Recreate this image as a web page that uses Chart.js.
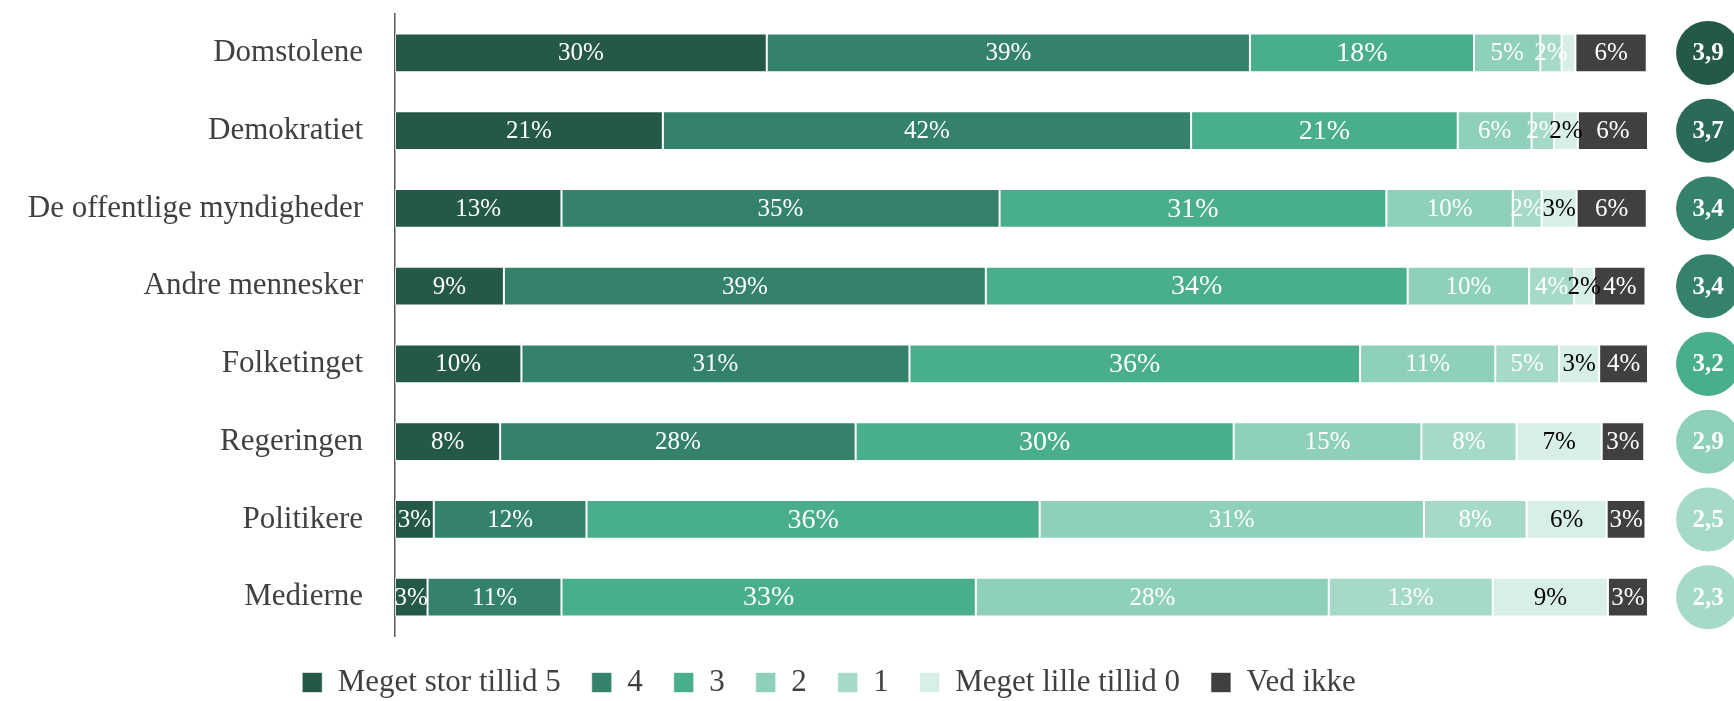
<!DOCTYPE html>
<html>
<head>
<meta charset="utf-8">
<script src="https://cdn.jsdelivr.net/npm/chart.js@4.4.0/dist/chart.umd.min.js"></script>
<style>
  html, body { margin: 0; padding: 0; background: #fff; }
  #wrap { width: 1734px; height: 701px; }
</style>
</head>
<body>
<div id="wrap"><canvas id="tillidChart"></canvas></div>
<script>
// Kategorier på y-aksen
const categories = ['Domstolene', 'Demokratiet', 'De offentlige myndigheder', 'Andre mennesker',
    'Folketinget', 'Regeringen', 'Politikere', 'Medierne'];

// Andele i procent for hver svarkategori
const tillid5 = [29.7, 21.4, 13.3, 8.7, 10.1, 8.4, 3.1, 2.6];
const tillid4 = [38.6, 42.2, 35.0, 38.5, 31.0, 28.4, 12.2, 10.7];
const tillid3 = [17.9, 21.3, 30.9, 33.7, 36.0, 30.2, 36.2, 33.1];
const tillid2 = [5.3, 5.9, 10.1, 9.7, 10.8, 15.0, 30.7, 28.2];
const tillid1 = [1.7, 1.8, 2.3, 3.6, 5.1, 7.6, 8.2, 13.1];
const tillid0 = [1.1, 1.9, 2.8, 1.6, 3.2, 6.8, 6.4, 9.2];
const vedIkke = [5.7, 5.6, 5.6, 4.1, 3.9, 3.4, 3.1, 3.2];

// Gennemsnitlig tillid (cirklerne til højre)
const gennemsnit = [3.9, 3.7, 3.4, 3.4, 3.2, 2.9, 2.5, 2.3];
const cirkelFarver = ['#245849', '#2B6A59', '#35826C', '#35826C', '#48AE8E', '#8ED0BC', '#A5D9CA', '#A5D9CA'];

const FONT = "'Liberation Serif', 'DejaVu Serif', serif";

// Procent-tekster midt i hvert segment
const segmentLabels = {
    id: 'segmentLabels',
    afterDatasetsDraw(chart) {
        const ctx = chart.ctx;
        ctx.save();
        ctx.textAlign = 'center';
        ctx.textBaseline = 'middle';
        chart.data.datasets.forEach((ds, di) => {
            const meta = chart.getDatasetMeta(di);
            if (meta.hidden) return;
            meta.data.forEach((bar, i) => {
                const v = ds.data[i];
                if (v < 1.5) return;
                ctx.font = (ds.labelSize || 25) + 'px ' + FONT;
                ctx.fillStyle = ds.labelColor;
                ctx.fillText(Math.round(v) + '%', (bar.x + bar.base) / 2, bar.y + 1);
            });
        });
        ctx.restore();
    }
};

// Cirkler med gennemsnit, placeret via skalaerne
const averageCircles = {
    id: 'averageCircles',
    afterDraw(chart) {
        const ctx = chart.ctx;
        const x = chart.scales.x.getPixelForValue(104.9);
        ctx.save();
        gennemsnit.forEach((v, i) => {
            const y = chart.scales.y.getPixelForValue(i);
            ctx.beginPath();
            ctx.arc(x, y, 32, 0, Math.PI * 2);
            ctx.fillStyle = cirkelFarver[i];
            ctx.fill();
            ctx.fillStyle = '#ffffff';
            ctx.font = 'bold 25px ' + FONT;
            ctx.textAlign = 'center';
            ctx.textBaseline = 'middle';
            ctx.fillText(v.toFixed(1).replace('.', ','), x, y + 1);
        });
        ctx.restore();
    }
};

function lavDataset(label, data, color, labelColor, labelSize) {
    return {
        label: label,
        data: data,
        backgroundColor: color,
        borderColor: 'rgba(255,255,255,0.6)',
        borderWidth: 1,
        borderSkipped: false,
        labelColor: labelColor,
        labelSize: labelSize
    };
}

function initChart() {
    const ctx = document.getElementById('tillidChart').getContext('2d');
    new Chart(ctx, {
        type: 'bar',
        data: {
            labels: categories,
            datasets: [
                lavDataset('Meget stor tillid 5', tillid5, '#245849', '#ffffff'),
                lavDataset('4', tillid4, '#35826C', '#ffffff'),
                lavDataset('3', tillid3, '#48AE8E', '#ffffff', 28),
                lavDataset('2', tillid2, '#8ED0BC', '#ffffff'),
                lavDataset('1', tillid1, '#A5D9CA', '#ffffff'),
                lavDataset('Meget lille tillid 0', tillid0, '#D8EFE8', '#000000'),
                lavDataset('Ved ikke', vedIkke, '#404040', '#ffffff')
            ]
        },
        options: {
            indexAxis: 'y',
            responsive: true,
            maintainAspectRatio: false,
            animation: false,
            categoryPercentage: 1,
            barPercentage: 0.5,
            layout: { padding: { top: 14, right: 76, bottom: -7, left: 0 } },
            scales: {
                x: {
                    stacked: true,
                    min: 0,
                    max: 100.9,
                    display: false
                },
                y: {
                    stacked: true,
                    grid: { display: false, drawTicks: false },
                    border: { display: true, color: '#595959', width: 1.5 },
                    ticks: {
                        padding: 32,
                        color: '#404040',
                        font: { family: FONT, size: 31 }
                    },
                    afterFit(scale) {
                        scale.width = 395;
                        scale.paddingTop = 0;
                        scale.paddingBottom = 0;
                    }
                }
            },
            plugins: {
                legend: {
                    position: 'bottom',
                    labels: {
                        boxWidth: 20,
                        boxHeight: 20,
                        padding: 31,
                        color: '#404040',
                        font: { family: FONT, size: 31 }
                    }
                },
                tooltip: { enabled: false }
            }
        },
        plugins: [segmentLabels, averageCircles]
    });
}

document.addEventListener('DOMContentLoaded', initChart);
</script>
</body>
</html>
